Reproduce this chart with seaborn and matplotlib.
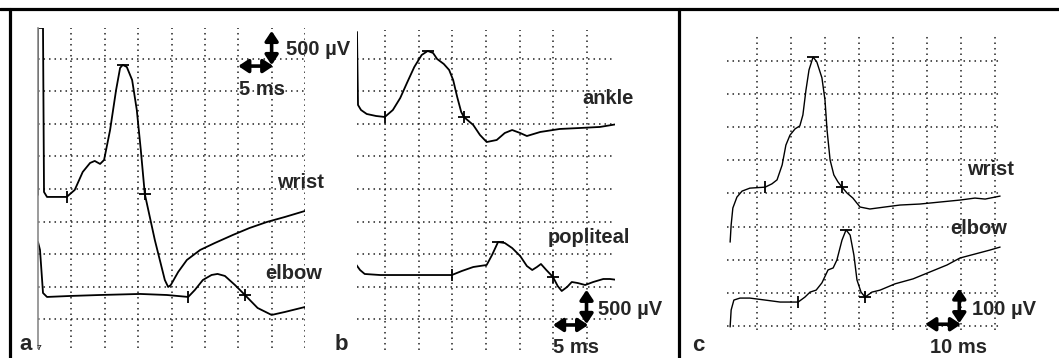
import matplotlib
matplotlib.use("Agg")
import matplotlib.pyplot as plt
from matplotlib.lines import Line2D
import seaborn as sns
import numpy as np

# ---- panel a: median nerve (ms, µV) ----
a_wrist_t = [0.0, 0.0, 0.75, 0.9, 1.35, 4.3, 5.5, 6.7, 7.8, 8.5, 9.3, 9.9, 10.8, 11.7, 12.3, 12.7,
             13.3, 14.1, 14.8, 15.4, 16.0, 17.5, 19.0, 19.5, 19.9, 21.0, 22.3, 24.3, 26.5, 29.2,
             31.7, 34.3, 37.0, 40.0]
a_wrist_uv = [2410, 4970, 4970, 2454, 2378, 2378, 2485, 2761, 2899, 2930, 2884, 2945, 3405, 4019,
              4357, 4403, 4372, 4172, 3712, 3099, 2424, 1718, 1104, 997, 1028, 1227, 1411, 1565,
              1672, 1795, 1902, 1994, 2071, 2163]
a_wrist_marks = [4.3, 12.7, 16.0]

a_elbow_t = [0.0, 0.3, 0.75, 1.35, 4.8, 9.3, 15.3, 19.3, 22.5, 23.5, 24.7, 26.0, 26.9, 28.0, 29.5,
             31.0, 32.9, 35.0, 37.0, 40.0]
a_elbow_uv = [1687, 1565, 905, 844, 859, 874, 890, 874, 844, 951, 1104, 1181, 1197, 1166, 1028,
              874, 675, 568, 614, 690]
a_elbow_marks = [22.5, None, 31.0]

# ---- panel b: tibial nerve ----
b_ankle_t = [0.75, 0.9, 1.35, 2.2, 3.6, 4.9, 6.1, 7.2, 8.2, 9.3, 10.4, 11.3, 12.1, 12.7, 13.7,
             14.5, 15.1, 15.7, 16.3, 16.7, 18.1, 19.1, 20.1, 21.6, 22.8, 23.9, 25.1, 26.1, 28.1,
             31.0, 34.0, 37.0, 39.7]
b_ankle_uv = [4909, 3789, 3712, 3651, 3620, 3605, 3712, 3896, 4126, 4372, 4556, 4617, 4587, 4495,
              4418, 4326, 4172, 3912, 3682, 3605, 3482, 3329, 3221, 3252, 3359, 3405, 3359, 3313,
              3375, 3421, 3436, 3452, 3498]
b_ankle_marks = [4.9, 11.3, 16.7]

b_pop_t = [0.45, 1.2, 1.9, 4.2, 8.2, 11.6, 14.9, 16.4, 18.1, 20.1, 20.9, 21.8, 22.8, 23.9, 25.1,
           26.1, 26.9, 27.6, 28.2, 29.0, 30.0, 30.7, 31.3, 32.1, 32.8, 33.7, 34.8, 36.0, 37.5,
           38.5, 39.7]
b_pop_uv = [1365, 1258, 1197, 1181, 1181, 1181, 1181, 1243, 1304, 1335, 1488, 1687, 1672, 1595,
            1473, 1319, 1258, 1304, 1350, 1258, 1150, 1012, 936, 997, 1074, 1058, 1028, 1074,
            1120, 1120, 1104]
b_pop_marks = [14.9, 21.8, 30.0]

# ---- panel c: ulnar nerve ----
c_wrist_t = [2.1, 2.4, 2.9, 4.1, 5.6, 7.9, 12.4, 14.4, 15.9, 17.4, 18.5, 19.7, 21.2, 22.6, 23.5,
             24.4, 25.3, 26.5, 27.6, 29.1, 30.0, 30.6, 31.5, 32.6, 33.8, 35.0, 36.5, 38.2, 40.3,
             43.2, 47.6, 52.1, 57.9, 63.8, 69.7, 74.1, 77.1, 81.5]
c_wrist_uv = [353, 405, 456, 489, 507, 516, 519, 529, 541, 586, 646, 676, 695, 704, 737, 812, 873,
              912, 897, 849, 782, 692, 601, 556, 535, 519, 501, 486, 459, 453, 459, 465, 468, 474,
              480, 486, 483, 492]
c_wrist_marks = [12.4, 26.5, 35.0]

c_elbow_t = [2.1, 2.4, 3.2, 5.0, 7.9, 12.4, 16.8, 22.1, 24.1, 25.6, 27.4, 29.1, 30.9, 32.4, 33.5,
             35.0, 36.2, 37.4, 38.5, 39.4, 40.6, 41.8, 43.8, 46.2, 50.6, 55.9, 60.9, 65.9, 69.7,
             74.1, 78.5, 81.5]
c_elbow_uv = [97, 148, 178, 184, 184, 178, 172, 172, 187, 202, 208, 230, 269, 275, 299, 359, 390,
              374, 314, 239, 202, 187, 202, 208, 227, 242, 263, 284, 305, 317, 329, 338]
c_elbow_marks = [22.1, 36.2, 41.8]

# scale bars: (corner time, corner µV, ms length, µV length)
a_bar = (35.0, 4400, 5, 500)
b_bar = (35.0, 430, 5, 500)
c_bar = (69.5, 108, 10, 100)

W, H = 1059, 358
sns.set_style("white")
plt.rcParams['font.family'] = ['Liberation Sans', 'DejaVu Sans']

fig = plt.figure(figsize=(W / 100, H / 100), dpi=100)


def px_axes(left, top, right, bottom):
    return fig.add_axes([left / W, 1 - bottom / H, (right - left) / W, (bottom - top) / H])


def setup(ax, xlim, ylim, xt, yt):
    ax.set_xlim(*xlim)
    ax.set_ylim(*ylim)
    ax.set_xticks(xt)
    ax.set_yticks(yt)
    ax.tick_params(length=0, labelbottom=False, labelleft=False)
    ax.grid(True, linestyle=(0, (1, 2.6)), linewidth=1.1, color='#222222')
    for s in ax.spines.values():
        s.set_visible(False)
    ax.set_facecolor('none')
    ax.set_xlabel('')
    ax.set_ylabel('')


def trace(ax, t, uv, marks, lw):
    sns.lineplot(x=t, y=uv, ax=ax, sort=False, estimator=None, color='black', linewidth=lw)
    for m, sym, ms in zip(marks, ['|', '_', '+'], [8, 9, 8]):
        if m is not None:
            ax.plot(m, np.interp(m, t, uv), marker=sym, color='black', markersize=ms,
                    markeredgewidth=1.3, clip_on=False)


def scale_bar(ax, bar):
    t0, v0, dt, dv = bar
    st = dict(arrowstyle='<|-|>,head_length=0.45,head_width=0.3', color='black', lw=2.6,
              shrinkA=0, shrinkB=0, mutation_scale=13)
    ax.annotate('', xy=(t0, v0 + dv * 1.05), xytext=(t0, v0), arrowprops=st, annotation_clip=False)
    ax.annotate('', xy=(t0 - dt, v0 - dv * 0.03), xytext=(t0 + dt * 0.05, v0 - dv * 0.03),
                arrowprops=st, annotation_clip=False)


# panel a
ax_a = px_axes(38, 28, 305, 348)
setup(ax_a, (0, 40), (61, 4969), np.arange(5, 41, 5), np.arange(500, 4501, 500))
ax_a.spines['left'].set_visible(True)
ax_a.spines['left'].set_color('#8a8a8a')
ax_a.spines['left'].set_linewidth(1.2)
trace(ax_a, a_wrist_t, a_wrist_uv, a_wrist_marks, 1.3)
trace(ax_a, a_elbow_t, a_elbow_uv, a_elbow_marks, 1.3)
scale_bar(ax_a, a_bar)

# panel b
ax_b = px_axes(357, 30, 615, 350)
setup(ax_b, (0.75, 39.25), (31, 4939), np.arange(5, 36, 5), np.arange(500, 4501, 500))
trace(ax_b, b_ankle_t, b_ankle_uv, b_ankle_marks, 1.3)
trace(ax_b, b_pop_t, b_pop_uv, b_pop_marks, 1.3)
scale_bar(ax_b, b_bar)

# panel c
ax_c = px_axes(727, 33, 1002, 330)
setup(ax_c, (1.18, 82.06), (87.6, 984.5), np.arange(10, 81, 10), np.arange(100, 901, 100))
trace(ax_c, c_wrist_t, c_wrist_uv, c_wrist_marks, 1.0)
trace(ax_c, c_elbow_t, c_elbow_uv, c_elbow_marks, 1.0)
scale_bar(ax_c, c_bar)


def label(x, y, s, size=14.5):
    fig.text(x / W, 1 - y / H, s, ha='left', va='baseline', fontsize=size, fontweight='bold')


label(286, 55, '500 µV')
label(239, 95, '5 ms')
label(277, 188, 'wrist')
label(265, 279, 'elbow')
label(19, 350, 'a', 16)
label(37, 350, '7', 6)
label(582, 104, 'ankle')
label(548, 243, 'popliteal')
label(598, 315, '500 µV')
label(553, 353, '5 ms')
label(335, 350, 'b', 16)
label(967, 175, 'wrist')
label(950, 234, 'elbow')
label(972, 315, '100 µV')
label(930, 353, '10 ms')
label(692, 351, 'c', 16)

# frame lines
for xs, ys in [((0, W), (8.5, 8.5)), ((9.5, 9.5), (8.5, H)), ((678.5, 678.5), (8.5, H))]:
    fig.add_artist(Line2D([x / W for x in xs], [1 - y / H for y in ys], color='black',
                          linewidth=2.3, transform=fig.transFigure))

fig.savefig('out.png', dpi=100)
